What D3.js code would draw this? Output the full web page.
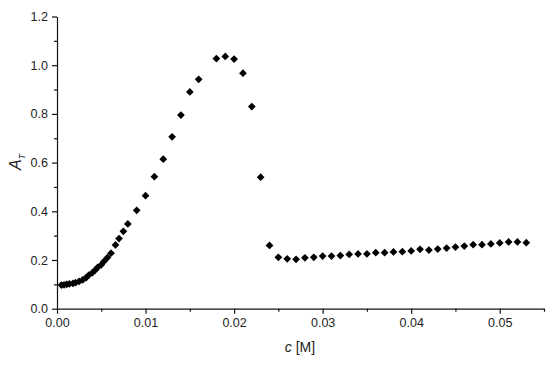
<!DOCTYPE html>
<html>
<head>
<meta charset="utf-8">
<script src="https://cdn.jsdelivr.net/npm/d3@7"></script>
<style>
  body { margin: 0; background: #fff; }
  svg { font-family: "Liberation Sans", Arial, sans-serif; }
</style>
</head>
<body>
<svg width="550" height="366"></svg>
<script>
const conc = [
    0.0005, 0.0008, 0.0011, 0.0014, 0.0018, 0.0021, 0.0025, 0.0029, 0.0033, 0.0036,
    0.0040, 0.0043, 0.0046, 0.0050, 0.0053, 0.0057, 0.0061, 0.0066, 0.0070, 0.0075,
    0.008, 0.009, 0.010, 0.011, 0.012, 0.013, 0.014, 0.015, 0.016, 0.018,
    0.019, 0.020, 0.021, 0.022, 0.023, 0.024,
    0.025, 0.026, 0.027, 0.028, 0.029, 0.030, 0.031, 0.032, 0.033, 0.034,
    0.035, 0.036, 0.037, 0.038, 0.039, 0.040, 0.041, 0.042, 0.043, 0.044,
    0.045, 0.046, 0.047, 0.048, 0.049, 0.050, 0.051, 0.052, 0.053
];
const absorb = [
    0.097, 0.098, 0.100, 0.102, 0.104, 0.107, 0.112, 0.118, 0.128, 0.138,
    0.148, 0.158, 0.170, 0.180, 0.194, 0.210, 0.228, 0.262, 0.288, 0.318,
    0.348, 0.404, 0.464, 0.542, 0.614, 0.706, 0.795, 0.890, 0.942, 1.027,
    1.036, 1.025, 0.967, 0.830, 0.540, 0.260,
    0.211, 0.205, 0.203, 0.209, 0.211, 0.216, 0.216, 0.218, 0.223, 0.225,
    0.225, 0.230, 0.230, 0.233, 0.234, 0.237, 0.244, 0.241, 0.245, 0.249,
    0.253, 0.257, 0.263, 0.263, 0.266, 0.270, 0.274, 0.274, 0.271
];
const xTicks = [0, 0.01, 0.02, 0.03, 0.04, 0.05];
const xMinor = [0.005, 0.015, 0.025, 0.035, 0.045, 0.055];
const yTicks = [0, 0.2, 0.4, 0.6, 0.8, 1.0, 1.2];
const yMinor = [0.1, 0.3, 0.5, 0.7, 0.9, 1.1];

const data = conc.map((c, i) => ({c: c, a: absorb[i]}));

const svg = d3.select("svg");

const x = d3.scaleLinear().domain([0, 0.055]).range([57, 544]),
     y = d3.scaleLinear().domain([0, 1.2]).range([308.7, 16.5]);

const ink = "#111";

// x axis
svg.append("g")
   .attr("transform", `translate(0,${y(0)})`)
   .call(d3.axisBottom(x).tickValues(xMinor).tickSize(3).tickFormat(""))
   .call(g => g.select(".domain").remove());
const gx = svg.append("g")
   .attr("transform", `translate(0,${y(0)})`)
   .call(d3.axisBottom(x).tickValues(xTicks).tickSize(5).tickSizeOuter(0).tickPadding(4)
       .tickFormat(d3.format(".2f")));
gx.selectAll("text").attr("font-size", 12.5).attr("fill", "#222");

// y axis
svg.append("g")
   .attr("transform", `translate(${x(0)},0)`)
   .call(d3.axisLeft(y).tickValues(yMinor).tickSize(3).tickFormat(""))
   .call(g => g.select(".domain").remove());
const gy = svg.append("g")
   .attr("transform", `translate(${x(0)},0)`)
   .call(d3.axisLeft(y).tickValues(yTicks).tickSize(5).tickSizeOuter(0).tickPadding(4)
       .tickFormat(d3.format(".1f")));
gy.selectAll("text").attr("font-size", 12.5).attr("fill", "#222");

svg.selectAll(".domain, .tick line").attr("stroke", ink).attr("stroke-width", 1.2);

// axis titles
svg.append("text")
   .attr("x", 300)
   .attr("y", 352)
   .attr("text-anchor", "middle")
   .attr("font-size", 14)
   .attr("fill", "#222")
   .html('<tspan font-style="italic">c</tspan> [M]');

svg.append("text")
   .attr("transform", "translate(21,162) rotate(-90)")
   .attr("text-anchor", "middle")
   .attr("font-size", 16)
   .attr("fill", "#222")
   .html('<tspan font-style="italic">A</tspan><tspan font-style="italic" font-size="9" dy="4">T</tspan>');

// points
const diamond = d3.symbol().type(d3.symbolSquare).size(30);
svg.append("g")
   .selectAll("path")
   .data(data)
   .join("path")
   .attr("d", diamond)
   .attr("transform", d => `translate(${x(d.c)},${y(d.a)}) rotate(45)`)
   .attr("fill", "#000");
</script>
</body>
</html>
